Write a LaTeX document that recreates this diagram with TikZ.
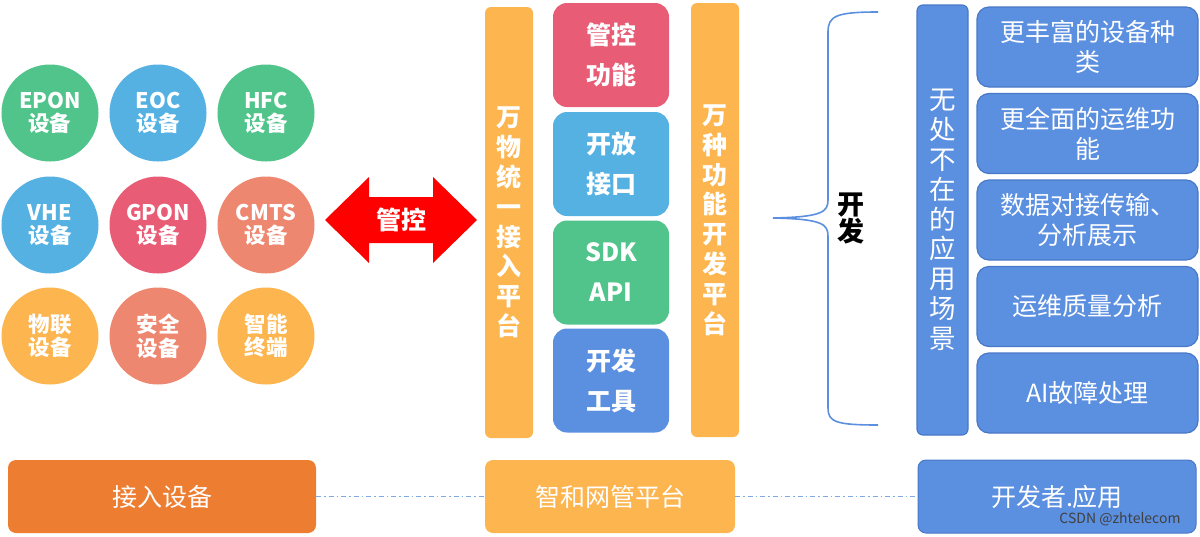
\documentclass[tikz,border=0pt]{standalone}
\usepackage{fontspec}
\setmainfont{Noto Sans CJK SC}
\definecolor{cgreen}{HTML}{50C48A}
\definecolor{clblue}{HTML}{56B1E3}
\definecolor{cpink}{HTML}{E85D75}
\definecolor{csalmon}{HTML}{EE8770}
\definecolor{corange}{HTML}{FDB550}
\definecolor{cblue}{HTML}{5B8FE0}
\definecolor{cbluedk}{HTML}{4A78C8}
\definecolor{cdeep}{HTML}{ED7D31}
\definecolor{clink}{HTML}{7FAAE6}
\tikzset{
  circ/.style={circle, minimum size=97pt, inner sep=0pt, text=white, align=center,
    font=\bfseries\fontsize{21.5}{23.5}\selectfont},
  midbox/.style={rounded corners=14pt, minimum width=116pt, minimum height=104pt, inner sep=0pt,
    text=white, align=center, font=\bfseries\fontsize{25}{40}\selectfont},
  vbar/.style={rounded corners=6pt, minimum width=48pt, inner sep=0pt, text=white, align=center,
    font=\bfseries\fontsize{25}{29.8}\selectfont},
  rbox/.style={fill=cblue, draw=cbluedk, line width=1.2pt, rounded corners=12pt,
    minimum width=221pt, minimum height=80pt, inner sep=0pt, text=white, align=center,
    font=\fontsize{25}{30}\selectfont},
  botbox/.style={rounded corners=8pt, minimum height=73pt, inner sep=0pt, text=white,
    align=center, font=\fontsize{25}{28}\selectfont},
  linkline/.style={clink, line width=1.4pt, dash pattern=on 5pt off 3pt on 1.5pt off 3pt},
  bracec/.style={cblue, line width=1.6pt}
}
\begin{document}
\begin{tikzpicture}[x=1pt, y=-1pt]
\useasboundingbox (0,0) rectangle (1200,536);
% circles
\node[circ, fill=cgreen]  (epon) at (50,113)  {EPON\\设备};
\node[circ, fill=clblue]  (eoc)  at (158,113) {EOC\\设备};
\node[circ, fill=cgreen]  (hfc)  at (266,113) {HFC\\设备};
\node[circ, fill=clblue]  (vhe)  at (50,225)  {VHE\\设备};
\node[circ, fill=cpink]   (gpon) at (158,225) {GPON\\设备};
\node[circ, fill=csalmon] (cmts) at (266,225) {CMTS\\设备};
\node[circ, fill=corange] (wl)   at (50,336)  {物联\\设备};
\node[circ, fill=csalmon] (aq)   at (158,336) {安全\\设备};
\node[circ, fill=corange] (zn)   at (266,336) {智能\\终端};
% double arrow
\fill[red] (325,220) -- (369,177) -- (369,197) -- (433,197) -- (433,177) -- (477,220)
  -- (433,263) -- (433,243) -- (369,243) -- (369,263) -- cycle;
\node[text=white, font=\bfseries\fontsize{25}{25}\selectfont] (gk) at (401,220) {管控};
% left / right bars
\node[vbar, fill=corange, minimum height=431pt] (lbar) at (509,222.5)
  {万\\物\\统\\一\\接\\入\\平\\台};
\node[vbar, fill=corange, minimum height=434pt] (rbar) at (715,220)
  {万\\种\\功\\能\\开\\发\\平\\台};
% middle boxes
\node[midbox, fill=cpink]  (m1) at (611,55)  {管控\\功能};
\node[midbox, fill=clblue] (m2) at (611,164) {开放\\接口};
\node[midbox, fill=cgreen] (m3) at (611,272.5) {SDK\\API};
\node[midbox, fill=cblue]  (m4) at (611,380.5) {开发\\工具};
% brace
\draw[bracec] (878,12) .. controls (836,12) and (828,16) .. (828,32) -- (828,200)
  .. controls (828,212) and (822,217) .. (773,218)
  .. controls (822,219) and (828,224) .. (828,236) -- (828,408)
  .. controls (828,422) and (836,425) .. (878,425);
\node[font=\bfseries\fontsize{27}{27}\selectfont, align=center] (kf) at (851,218) {开\\发};
% tall blue bar
\node[fill=cblue, draw=cbluedk, line width=1.2pt, rounded corners=6pt, minimum width=51pt,
  minimum height=430pt, inner sep=0pt, text=white, align=center,
  font=\fontsize{26.5}{29.8}\selectfont] (tb) at (942.5,220)
  {无\\处\\不\\在\\的\\应\\用\\场\\景};
% right boxes
\node[rbox] (r1) at (1087.5,47)  {更丰富的设备种\\类};
\node[rbox] (r2) at (1087.5,133.5) {更全面的运维功\\能};
\node[rbox] (r3) at (1087.5,220) {数据对接传输、\\分析展示};
\node[rbox] (r4) at (1087.5,306.5) {运维质量分析};
\node[rbox] (r5) at (1087.5,393) {AI故障处理};
% bottom boxes
\node[botbox, fill=cdeep, minimum width=308pt] (b1) at (162,496.5) {接入设备};
\node[botbox, fill=corange, minimum width=250pt] (b2) at (610,496.5) {智和网管平台};
\node[botbox, fill=cblue, draw=cbluedk, line width=1pt, minimum width=278pt] (b3) at (1057,496.5) {开发者.应用};
\draw[linkline] (b1.east) -- (b2.west);
\draw[linkline] (b2.east) -- (b3.west);
\node[text=black!75, font=\fontsize{14}{14}\selectfont, anchor=east] (csdn) at (1184,519) {CSDN @zhtelecom};
\end{tikzpicture}
\end{document}
